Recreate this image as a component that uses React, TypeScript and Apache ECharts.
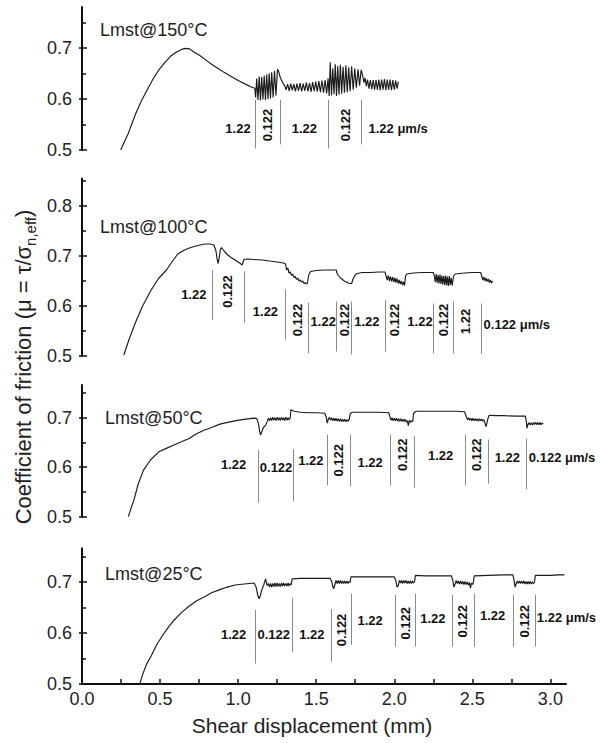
import React, { useEffect, useRef } from 'react';
import * as echarts from 'echarts';

type Pt = [number, number];
type Seg = { x: number; y1: number; y2: number };
type Lab = { x: number; y: number; text: string; rot?: boolean; left?: boolean };

// ---------- data (shear displacement mm, friction coefficient) ----------
const lmst150: Pt[] = [
  [0.248,0.5],[0.27,0.515],[0.297,0.533],[0.32,0.552],[0.345,0.572],[0.38,0.596],[0.418,0.618],[0.455,0.639],[0.492,0.657],[0.53,0.671],[0.565,0.683],[0.6,0.691],[0.638,0.697],[0.663,0.699],[0.69,0.698],[0.711,0.693],[0.75,0.686],[0.79,0.677],[0.834,0.667],[0.87,0.66],[0.91,0.652],[0.956,0.644],[1.0,0.636],[1.053,0.628],[1.08,0.624],[1.107,0.621],
  [1.112,0.603],[1.119,0.640],[1.127,0.598],[1.135,0.644],[1.143,0.597],[1.151,0.643],[1.159,0.599],[1.167,0.646],[1.175,0.598],[1.183,0.648],[1.191,0.600],[1.199,0.650],[1.207,0.601],[1.215,0.652],[1.224,0.603],[1.233,0.655],[1.242,0.607],[1.252,0.658],[1.258,0.655],[1.27,0.642],[1.285,0.632],[1.298,0.626],
  [1.307,0.618],[1.317,0.629],[1.327,0.616],[1.337,0.630],[1.347,0.617],[1.357,0.629],[1.367,0.615],[1.377,0.630],[1.387,0.616],[1.397,0.631],[1.407,0.615],[1.417,0.630],[1.427,0.616],[1.437,0.632],[1.447,0.615],[1.457,0.631],[1.467,0.614],[1.477,0.633],[1.487,0.615],[1.497,0.634],[1.507,0.614],[1.517,0.635],[1.527,0.613],[1.537,0.636],[1.547,0.612],[1.557,0.637],[1.567,0.611],[1.576,0.64],
  [1.583,0.606],[1.590,0.672],[1.598,0.607],[1.606,0.660],[1.614,0.609],[1.622,0.668],[1.630,0.606],[1.638,0.664],[1.646,0.608],[1.655,0.667],[1.663,0.610],[1.672,0.663],[1.681,0.612],[1.690,0.666],[1.699,0.613],[1.708,0.662],[1.717,0.615],[1.727,0.664],[1.737,0.618],[1.747,0.660],[1.757,0.622],[1.768,0.658],[1.778,0.626],[1.788,0.657],
  [1.798,0.645],[1.806,0.632],[1.813,0.641],[1.821,0.625],[1.829,0.638],[1.838,0.620],[1.847,0.637],[1.856,0.619],[1.865,0.637],[1.874,0.618],[1.883,0.637],[1.892,0.618],[1.901,0.638],[1.910,0.617],[1.919,0.638],[1.928,0.618],[1.937,0.639],[1.946,0.617],[1.955,0.638],[1.964,0.618],[1.973,0.638],[1.982,0.617],[1.991,0.637],[2.000,0.618],[2.009,0.636],[2.018,0.620],[2.026,0.634]
];

const lmst100: Pt[] = [
  [0.268,0.502],[0.3,0.532],[0.345,0.569],[0.39,0.601],[0.443,0.632],[0.49,0.655],[0.541,0.672],[0.58,0.69],[0.614,0.704],[0.65,0.711],[0.687,0.716],[0.73,0.72],[0.785,0.724],[0.82,0.724],[0.845,0.722],[0.858,0.71],[0.866,0.693],[0.872,0.685],[0.878,0.695],[0.886,0.712],[0.893,0.717],[0.91,0.71],[0.93,0.703],[0.95,0.698],[0.97,0.694],[0.99,0.69],[1.01,0.686],[1.026,0.682],[1.037,0.693],[1.06,0.694],[1.1,0.693],[1.154,0.692],[1.2,0.69],[1.25,0.688],[1.29,0.686],[1.304,0.684],
  [1.31,0.672],[1.318,0.676],[1.326,0.666],[1.334,0.668],[1.342,0.661],[1.35,0.664],[1.358,0.657],[1.366,0.659],[1.374,0.653],[1.382,0.656],[1.39,0.65],[1.398,0.652],[1.406,0.648],[1.414,0.65],[1.422,0.645],[1.43,0.647],[1.438,0.644],[1.444,0.646],
  [1.452,0.662],[1.464,0.669],[1.5,0.671],[1.55,0.672],[1.6,0.672],[1.628,0.672],
  [1.635,0.664],[1.645,0.66],[1.655,0.656],[1.665,0.654],[1.675,0.651],[1.685,0.649],[1.695,0.648],[1.705,0.646],[1.715,0.645],[1.727,0.645],
  [1.737,0.655],[1.75,0.662],[1.763,0.665],[1.795,0.667],[1.85,0.667],[1.9,0.668],[1.94,0.668],
  [1.948,0.66],[1.955,0.652],[1.962,0.661],[1.969,0.65],[1.976,0.659],[1.983,0.649],[1.99,0.658],[1.997,0.648],[2.004,0.656],[2.011,0.647],[2.018,0.655],[2.025,0.645],[2.032,0.652],[2.039,0.644],[2.046,0.65],[2.053,0.642],[2.06,0.648],[2.066,0.641],
  [2.072,0.66],[2.08,0.664],[2.12,0.666],[2.18,0.667],[2.25,0.667],
  [2.257,0.66],[2.263,0.648],[2.269,0.664],[2.275,0.646],[2.281,0.662],[2.287,0.645],[2.293,0.663],[2.299,0.644],[2.305,0.661],[2.311,0.643],[2.317,0.66],[2.323,0.642],[2.329,0.661],[2.335,0.641],[2.341,0.659],[2.347,0.64],[2.353,0.66],[2.359,0.642],[2.365,0.656],[2.371,0.641],
  [2.38,0.66],[2.39,0.664],[2.45,0.666],[2.5,0.667],[2.554,0.667],
  [2.56,0.66],[2.567,0.652],[2.574,0.658],[2.581,0.65],[2.588,0.656],[2.595,0.649],[2.602,0.654],[2.609,0.647],[2.616,0.652],[2.623,0.646],[2.63,0.65]
];

const lmst50: Pt[] = [
  [0.297,0.5],[0.315,0.518],[0.333,0.534],[0.36,0.566],[0.394,0.594],[0.44,0.615],[0.492,0.631],[0.54,0.638],[0.589,0.645],[0.64,0.652],[0.687,0.658],[0.73,0.667],[0.785,0.675],[0.83,0.68],[0.883,0.687],[0.94,0.691],[1.005,0.695],[1.05,0.697],[1.101,0.699],[1.12,0.698],
  [1.13,0.688],[1.138,0.672],[1.144,0.665],[1.152,0.672],[1.162,0.68],[1.176,0.685],[1.186,0.692],
  [1.194,0.699],[1.201,0.694],[1.208,0.700],[1.215,0.694],[1.222,0.701],[1.229,0.695],[1.236,0.700],[1.243,0.694],[1.25,0.701],[1.257,0.695],[1.264,0.700],[1.271,0.694],[1.278,0.701],[1.285,0.695],[1.292,0.700],[1.299,0.694],[1.306,0.701],[1.313,0.695],[1.32,0.700],[1.327,0.696],[1.334,0.700],
  [1.338,0.716],[1.36,0.713],[1.4,0.711],[1.45,0.71],[1.5,0.71],[1.555,0.709],
  [1.565,0.7],[1.571,0.689],[1.578,0.697],
  [1.585,0.701],[1.592,0.695],[1.599,0.700],[1.606,0.694],[1.613,0.699],[1.62,0.694],[1.627,0.699],[1.634,0.693],[1.641,0.698],[1.648,0.693],[1.655,0.698],[1.662,0.692],[1.669,0.697],[1.676,0.692],[1.683,0.697],[1.69,0.692],[1.697,0.696],[1.704,0.693],[1.712,0.697],
  [1.718,0.708],[1.73,0.711],[1.8,0.711],[1.9,0.711],[1.965,0.71],
  [1.972,0.702],[1.979,0.695],[1.986,0.700],[1.993,0.694],[2.0,0.699],[2.007,0.694],[2.014,0.699],[2.021,0.693],[2.028,0.698],[2.035,0.693],[2.042,0.698],[2.049,0.692],[2.056,0.697],[2.063,0.692],[2.07,0.697],[2.077,0.691],[2.084,0.694],[2.09,0.684],[2.097,0.695],[2.104,0.69],[2.11,0.694],[2.118,0.692],
  [2.124,0.709],[2.14,0.713],[2.2,0.713],[2.3,0.713],[2.4,0.713],[2.45,0.712],
  [2.462,0.702],[2.469,0.696],[2.476,0.700],[2.483,0.695],[2.49,0.699],[2.497,0.694],[2.504,0.699],[2.511,0.694],[2.518,0.698],[2.525,0.694],[2.532,0.698],[2.539,0.693],[2.546,0.698],[2.553,0.694],[2.56,0.697],[2.567,0.693],[2.574,0.696],[2.582,0.688],[2.588,0.682],[2.594,0.69],[2.6,0.698],
  [2.608,0.705],[2.65,0.704],[2.7,0.704],[2.78,0.703],[2.84,0.703],
  [2.846,0.692],[2.85,0.679],[2.856,0.686],
  [2.863,0.69],[2.87,0.685],[2.877,0.69],[2.884,0.685],[2.891,0.69],[2.898,0.686],[2.905,0.691],[2.912,0.686],[2.919,0.690],[2.926,0.686],[2.933,0.690],[2.94,0.686],[2.947,0.689],[2.955,0.687]
];

const lmst25: Pt[] = [
  [0.37,0.5],[0.39,0.52],[0.415,0.54],[0.443,0.555],[0.48,0.578],[0.516,0.595],[0.55,0.61],[0.589,0.625],[0.64,0.641],[0.687,0.653],[0.735,0.663],[0.785,0.671],[0.83,0.679],[0.883,0.685],[0.93,0.69],[0.98,0.694],[1.04,0.696],[1.102,0.698],
  [1.115,0.69],[1.125,0.675],[1.134,0.667],[1.142,0.673],[1.151,0.684],[1.165,0.695],[1.176,0.706],[1.186,0.693],
  [1.194,0.697],[1.201,0.690],[1.208,0.697],[1.215,0.690],[1.222,0.697],[1.229,0.691],[1.236,0.698],[1.243,0.691],[1.25,0.698],[1.257,0.691],[1.264,0.697],[1.271,0.691],[1.278,0.698],[1.285,0.692],[1.292,0.698],[1.299,0.692],[1.306,0.697],[1.313,0.692],[1.32,0.698],[1.327,0.692],[1.334,0.697],[1.34,0.694],
  [1.346,0.706],[1.4,0.707],[1.5,0.707],[1.59,0.707],
  [1.6,0.7],[1.607,0.69],[1.613,0.687],[1.62,0.695],
  [1.627,0.703],[1.634,0.697],[1.641,0.703],[1.648,0.697],[1.655,0.703],[1.662,0.697],[1.669,0.702],[1.676,0.697],[1.683,0.702],[1.69,0.697],[1.697,0.702],[1.704,0.697],[1.711,0.701],[1.717,0.699],
  [1.722,0.71],[1.8,0.71],[1.9,0.71],[2.0,0.71],
  [2.01,0.703],[2.018,0.69],[2.026,0.693],
  [2.033,0.703],[2.04,0.698],[2.047,0.703],[2.054,0.697],[2.061,0.703],[2.068,0.698],[2.075,0.703],[2.082,0.697],[2.089,0.702],[2.096,0.697],[2.103,0.702],[2.11,0.697],[2.117,0.702],[2.124,0.698],[2.13,0.701],
  [2.136,0.713],[2.2,0.712],[2.3,0.712],[2.366,0.712],
  [2.375,0.703],[2.382,0.69],[2.39,0.696],
  [2.397,0.703],[2.404,0.697],[2.411,0.702],[2.418,0.696],[2.425,0.702],[2.432,0.696],[2.439,0.701],[2.446,0.695],[2.453,0.701],[2.46,0.695],[2.467,0.700],[2.474,0.694],[2.481,0.699],[2.488,0.688],[2.495,0.698],[2.502,0.695],[2.507,0.699],
  [2.512,0.712],[2.6,0.713],[2.7,0.714],[2.76,0.714],
  [2.768,0.702],[2.774,0.69],[2.781,0.697],
  [2.788,0.702],[2.795,0.697],[2.802,0.702],[2.809,0.697],[2.816,0.702],[2.823,0.697],[2.83,0.702],[2.837,0.696],[2.844,0.701],[2.851,0.696],[2.858,0.701],[2.865,0.696],[2.872,0.701],[2.879,0.696],[2.886,0.7],[2.893,0.697],[2.898,0.7],
  [2.904,0.713],[2.95,0.713],[3.0,0.713],[3.05,0.714],[3.09,0.714]
];

// velocity-step markers
const steps150: Seg[] = [
  { x: 1.107, y1: 0.598, y2: 0.503 }, { x: 1.272, y1: 0.598, y2: 0.511 },
  { x: 1.58, y1: 0.598, y2: 0.503 }, { x: 1.786, y1: 0.598, y2: 0.511 }
];
const steps100: Seg[] = [
  { x: 0.833, y1: 0.672, y2: 0.572 }, { x: 1.037, y1: 0.669, y2: 0.567 },
  { x: 1.304, y1: 0.633, y2: 0.533 }, { x: 1.449, y1: 0.607, y2: 0.505 },
  { x: 1.631, y1: 0.609, y2: 0.509 }, { x: 1.727, y1: 0.609, y2: 0.503 },
  { x: 1.94, y1: 0.612, y2: 0.509 }, { x: 2.069, y1: 0.603, y2: 0.498 },
  { x: 2.25, y1: 0.605, y2: 0.505 }, { x: 2.376, y1: 0.609, y2: 0.505 },
  { x: 2.554, y1: 0.605, y2: 0.504 }
];
const steps50: Seg[] = [
  { x: 1.13, y1: 0.635, y2: 0.529 }, { x: 1.355, y1: 0.636, y2: 0.532 },
  { x: 1.57, y1: 0.665, y2: 0.564 }, { x: 1.718, y1: 0.665, y2: 0.562 },
  { x: 1.975, y1: 0.665, y2: 0.563 }, { x: 2.13, y1: 0.663, y2: 0.559 },
  { x: 2.455, y1: 0.665, y2: 0.564 }, { x: 2.6, y1: 0.656, y2: 0.567 },
  { x: 2.848, y1: 0.658, y2: 0.555 }
];
const steps25: Seg[] = [
  { x: 1.107, y1: 0.645, y2: 0.54 }, { x: 1.346, y1: 0.669, y2: 0.562 },
  { x: 1.595, y1: 0.647, y2: 0.544 }, { x: 1.725, y1: 0.677, y2: 0.577 },
  { x: 2.008, y1: 0.675, y2: 0.573 }, { x: 2.137, y1: 0.677, y2: 0.573 },
  { x: 2.372, y1: 0.675, y2: 0.573 }, { x: 2.511, y1: 0.677, y2: 0.573 },
  { x: 2.765, y1: 0.674, y2: 0.573 }, { x: 2.9, y1: 0.675, y2: 0.573 }
];

const labels150: Lab[] = [
  { x: 0.999, y: 0.543, text: '1.22' }, { x: 1.19, y: 0.549, text: '0.122', rot: true },
  { x: 1.424, y: 0.543, text: '1.22' }, { x: 1.685, y: 0.549, text: '0.122', rot: true },
  { x: 1.835, y: 0.543, text: '1.22 μm/s', left: true }
];
const labels100: Lab[] = [
  { x: 0.716, y: 0.624, text: '1.22' }, { x: 0.933, y: 0.629, text: '0.122', rot: true },
  { x: 1.175, y: 0.589, text: '1.22' }, { x: 1.38, y: 0.572, text: '0.122', rot: true },
  { x: 1.545, y: 0.569, text: '1.22' }, { x: 1.679, y: 0.572, text: '0.122', rot: true },
  { x: 1.825, y: 0.569, text: '1.22' }, { x: 2.004, y: 0.572, text: '0.122', rot: true },
  { x: 2.165, y: 0.569, text: '1.22' }, { x: 2.313, y: 0.572, text: '0.122', rot: true },
  { x: 2.455, y: 0.569, text: '1.22', rot: true },
  { x: 2.572, y: 0.564, text: '0.122 μm/s', left: true }
];
const labels50: Lab[] = [
  { x: 0.971, y: 0.606, text: '1.22' }, { x: 1.243, y: 0.6, text: '0.122' },
  { x: 1.466, y: 0.613, text: '1.22' }, { x: 1.645, y: 0.614, text: '0.122', rot: true },
  { x: 1.845, y: 0.609, text: '1.22' }, { x: 2.052, y: 0.625, text: '0.122', rot: true },
  { x: 2.297, y: 0.623, text: '1.22' }, { x: 2.527, y: 0.625, text: '0.122', rot: true },
  { x: 2.724, y: 0.62, text: '1.22' }, { x: 2.862, y: 0.62, text: '0.122 μm/s', left: true }
];
const labels25: Lab[] = [
  { x: 0.971, y: 0.597, text: '1.22' }, { x: 1.228, y: 0.597, text: '0.122' },
  { x: 1.472, y: 0.597, text: '1.22' }, { x: 1.66, y: 0.606, text: '0.122', rot: true },
  { x: 1.845, y: 0.625, text: '1.22' }, { x: 2.072, y: 0.619, text: '0.122', rot: true },
  { x: 2.247, y: 0.629, text: '1.22' }, { x: 2.44, y: 0.623, text: '0.122', rot: true },
  { x: 2.63, y: 0.635, text: '1.22' }, { x: 2.832, y: 0.623, text: '0.122', rot: true },
  { x: 2.913, y: 0.63, text: '1.22 μm/s', left: true }
];

const panelNames = ['Lmst@150°C', 'Lmst@100°C', 'Lmst@50°C', 'Lmst@25°C'];
const panelNamePos: Pt[] = [[0.115, 0.735], [0.115, 0.759], [0.148, 0.699], [0.148, 0.716]];
const yMaxes = [0.78, 0.855, 0.766, 0.766];
const yTickLabels = [[0.5, 0.6, 0.7], [0.5, 0.6, 0.7, 0.8], [0.5, 0.6, 0.7], [0.5, 0.6, 0.7]];
const yMinorTicks = [[0.55, 0.65, 0.75], [0.55, 0.65, 0.75, 0.85], [0.55, 0.65, 0.75], [0.55, 0.65, 0.75]];
const xTickLabels = [0, 0.5, 1, 1.5, 2, 2.5, 3];
const xTickMarks = [0.25, 0.5, 0.75, 1, 1.25, 1.5, 1.75, 2, 2.25, 2.5, 2.75, 3];

const curves = [lmst150, lmst100, lmst50, lmst25];
const steps = [steps150, steps100, steps50, steps25];
const stepLabels = [labels150, labels100, labels50, labels25];

// layout (pixels)
const gridTops = [7, 178.5, 385, 548.3];
const gridHeights = [143, 177.5, 131.7, 135.7];
const FONT = "'Liberation Sans', Arial, sans-serif";
const AX = '#111';

export default function App() {
  const ref = useRef<HTMLDivElement>(null);
  useEffect(() => {
    document.body.style.margin = '0';
    if (!ref.current) return;
    const chart = echarts.init(ref.current, null, { renderer: 'svg' });

    const grid = curves.map((_, i) => ({ left: 82, right: 34, top: gridTops[i], height: gridHeights[i] }));
    const xAxis = curves.map((_, i) => ({
      type: 'value', gridIndex: i, min: 0, max: 3.1, show: i === 3,
      axisLine: { show: true, lineStyle: { color: AX, width: 2 } },
      axisTick: { show: true, inside: true, length: 5, customValues: xTickMarks, lineStyle: { color: AX, width: 1.5 } },
      axisLabel: { show: true, customValues: xTickLabels, formatter: (v: number) => v.toFixed(1), fontSize: 18, fontFamily: FONT, color: '#222', margin: 6 },
      splitLine: { show: false }
    }));
    const yAxis: any[] = [];
    curves.forEach((_, i) => {
      const base = { type: 'value', gridIndex: i, min: 0.5, max: yMaxes[i], position: 'left', splitLine: { show: false } };
      yAxis.push({
        ...base,
        axisLine: { show: true, lineStyle: { color: AX, width: 2 } },
        axisTick: { show: true, inside: true, length: 5, customValues: yTickLabels[i], lineStyle: { color: AX, width: 1.5 } },
        axisLabel: { show: true, customValues: yTickLabels[i], formatter: (v: number) => v.toFixed(1), fontSize: 18, fontFamily: FONT, color: '#222', margin: 10 }
      });
      yAxis.push({
        ...base,
        axisLine: { show: false },
        axisTick: { show: true, inside: false, length: 3, customValues: yTickLabels[i], lineStyle: { color: AX, width: 1.5 } },
        axisLabel: { show: false }
      });
      yAxis.push({
        ...base,
        axisLine: { show: false },
        axisTick: { show: true, inside: true, length: 4, customValues: yMinorTicks[i], lineStyle: { color: AX, width: 1.5 } },
        axisLabel: { show: false }
      });
    });

    const series = curves.map((data, i) => ({
      type: 'line', xAxisIndex: i, yAxisIndex: i * 3, data, showSymbol: false, symbol: 'none',
      lineStyle: { color: '#1a1a1a', width: 1.15 }, silent: true,
      markLine: {
        silent: true, symbol: ['none', 'none'], animation: false,
        lineStyle: { color: '#8a8a8a', width: 1, type: 'solid' },
        label: { show: false },
        data: steps[i].map(s => [{ coord: [s.x, s.y1] }, { coord: [s.x, s.y2] }])
      },
      markPoint: {
        silent: true, symbol: 'circle', symbolSize: 0, animation: false,
        itemStyle: { color: 'rgba(0,0,0,0)' },
        data: [
          {
            coord: panelNamePos[i], value: 0,
            label: { show: true, formatter: panelNames[i], position: 'right', distance: 0, fontSize: 18, fontFamily: FONT, color: '#222' }
          },
          ...stepLabels[i].map(l => ({
            coord: [l.x, l.y], value: 0,
            label: {
              show: true, formatter: l.text, position: l.left ? 'right' : 'inside', distance: 0,
              rotate: l.rot ? 90 : 0, fontSize: 13, fontWeight: 'bold', fontFamily: FONT, color: '#111'
            }
          }))
        ]
      }
    }));

    chart.setOption({
      animation: false,
      backgroundColor: '#fff',
      grid, xAxis, yAxis, series,
      graphic: [
        {
          type: 'text', x: 23, y: 367, rotation: Math.PI / 2,
          style: {
            text: '{a|Coefficient of friction (μ = τ/σ}{b|n,eff}{a|)}',
            align: 'center', verticalAlign: 'middle', fill: '#222',
            rich: {
              a: { fontSize: 22, fontFamily: FONT, lineHeight: 29, fill: '#222' },
              b: { fontSize: 15, fontFamily: FONT, lineHeight: 15, verticalAlign: 'bottom', fill: '#222' }
            }
          }
        },
        {
          type: 'text', x: 312, y: 725,
          style: { text: 'Shear displacement (mm)', align: 'center', verticalAlign: 'middle', fontSize: 21, fontFamily: FONT, fill: '#222' }
        }
      ]
    });
    return () => chart.dispose();
  }, []);
  return <div ref={ref} style={{ width: 600, height: 743 }} />;
}
